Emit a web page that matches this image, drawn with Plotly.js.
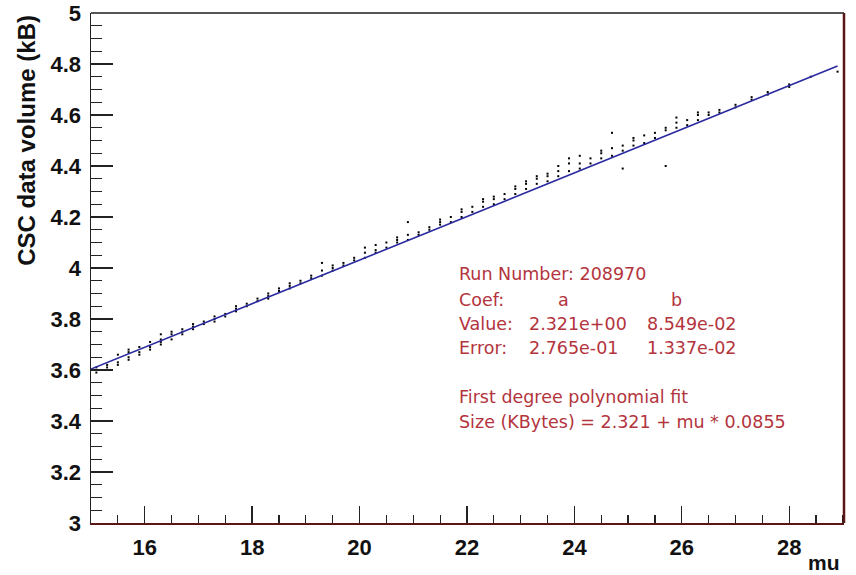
<!DOCTYPE html>
<html>
<head>
<meta charset="utf-8">
<script src="https://cdn.plot.ly/plotly-3.0.1.min.js"></script>
<style>html,body{margin:0;padding:0;background:#fff;}#chart{width:856px;height:575px;}</style>
</head>
<body>
<div id="chart"></div>
<script>
// scattered measurements (mu, size in kB)
const muVals = [
15.1,15.1,15.1, 15.3,15.3,15.3, 15.5,15.5,15.5, 15.7,15.7,15.7,15.7, 15.9,15.9,15.9,
16.1,16.1,16.1, 16.3,16.3,16.3,16.3, 16.5,16.5,16.5, 16.7,16.7,16.7, 16.9,16.9,16.9,
17.1,17.1, 17.3,17.3,17.3, 17.5,17.5, 17.7,17.7,17.7, 17.9,17.9,
18.1,18.1, 18.3,18.3,18.3, 18.5,18.5, 18.7,18.7,18.7, 18.9,18.9,
19.1,19.1, 19.3,19.3,19.3, 19.5,19.5,19.5, 19.7,19.7, 19.9,19.9,
20.1,20.1,20.1, 20.3,20.3,20.3, 20.5,20.5, 20.7,20.7,20.7, 20.9,20.9,20.9,
21.1,21.1, 21.3,21.3, 21.5,21.5,21.5, 21.7,21.7, 21.9,21.9,21.9,
22.1,22.1, 22.3,22.3,22.3, 22.5,22.5,22.5, 22.7,22.7, 22.9,22.9,22.9,
23.1,23.1,23.1, 23.3,23.3,23.3, 23.5,23.5,23.5, 23.7,23.7,23.7, 23.9,23.9,23.9,
24.1,24.1,24.1, 24.3,24.3, 24.5,24.5,24.5, 24.7,24.7,24.7, 24.9,24.9,24.9,
25.1,25.1,25.1, 25.3,25.3, 25.5,25.5, 25.7,25.7,25.7, 25.9,25.9,25.9,
26.1,26.1, 26.3,26.3,26.3, 26.5,26.5, 26.7,26.7, 27.0,27.0, 27.3,27.3,
27.6,27.6, 28.0,28.0, 28.4, 28.9
];
const sizeVals = [
3.60,3.59,3.61, 3.61,3.60,3.62, 3.63,3.62,3.66, 3.65,3.64,3.67,3.68, 3.66,3.67,3.69,
3.68,3.69,3.71, 3.70,3.71,3.72,3.74, 3.72,3.74,3.75, 3.74,3.75,3.76, 3.76,3.77,3.78,
3.78,3.79, 3.79,3.80,3.81, 3.81,3.82, 3.83,3.84,3.85, 3.85,3.86,
3.87,3.88, 3.88,3.89,3.90, 3.91,3.92, 3.92,3.93,3.94, 3.94,3.95,
3.96,3.97, 3.97,3.99,4.02, 3.99,4.00,4.01, 4.01,4.02, 4.03,4.04,
4.04,4.06,4.08, 4.06,4.07,4.09, 4.08,4.10, 4.10,4.11,4.12, 4.11,4.13,4.18,
4.13,4.14, 4.15,4.16, 4.17,4.18,4.19, 4.18,4.20, 4.20,4.22,4.23,
4.22,4.24, 4.24,4.26,4.27, 4.25,4.27,4.28, 4.27,4.29, 4.29,4.31,4.32,
4.31,4.33,4.34, 4.33,4.35,4.36, 4.34,4.36,4.37, 4.36,4.38,4.40, 4.38,4.41,4.43,
4.39,4.41,4.44, 4.41,4.43, 4.43,4.45,4.46, 4.44,4.47,4.53, 4.46,4.48,4.39,
4.48,4.50,4.51, 4.49,4.52, 4.51,4.53, 4.54,4.55,4.40, 4.55,4.57,4.59,
4.56,4.58, 4.58,4.60,4.61, 4.60,4.61, 4.61,4.62, 4.63,4.64, 4.66,4.67,
4.69,4.68, 4.72,4.71, 4.75, 4.77
];
// first degree polynomial fit endpoints
const fitX = [15.0, 28.9];
const fitY = [3.6035, 4.7919];
const infoLines = [
  {t:"Run Number: 208970", x:0.486, y:0.488, a:"left"},
  {t:"Coef:", x:0.486, y:0.437, a:"left"},
  {t:"a", x:0.627, y:0.437, a:"center"},
  {t:"b", x:0.778, y:0.437, a:"center"},
  {t:"Value:", x:0.486, y:0.390, a:"left"},
  {t:"2.321e+00", x:0.579, y:0.390, a:"left"},
  {t:"8.549e-02", x:0.736, y:0.390, a:"left"},
  {t:"Error:", x:0.486, y:0.343, a:"left"},
  {t:"2.765e-01", x:0.579, y:0.343, a:"left"},
  {t:"1.337e-02", x:0.736, y:0.343, a:"left"},
  {t:"First degree polynomial fit", x:0.486, y:0.247, a:"left"},
  {t:"Size (KBytes) = 2.321 + mu * 0.0855", x:0.486, y:0.198, a:"left"}
];

const red = '#b3343d';
const annots = infoLines.map(l => ({
  xref:'paper', yref:'paper', x:l.x, y:l.y, xanchor:l.a, yanchor:'middle',
  text:l.t, showarrow:false,
  font:{family:'DejaVu Sans', size:17.5, color:red}
}));
annots.push({xref:'paper', yref:'paper', x:-0.086, y:1.0, xanchor:'center', yanchor:'top',
  textangle:-90, text:'CSC data volume (kB)', showarrow:false,
  font:{family:'Liberation Sans', size:24, weight:'bold', color:'#111'}});
annots.push({xref:'paper', yref:'paper', x:0.997, y:-0.078, xanchor:'right', yanchor:'middle',
  text:'mu', showarrow:false,
  font:{family:'Liberation Sans', size:21, weight:'bold', color:'#111'}});

const traces = [
  {x:muVals, y:sizeVals, type:'scatter', mode:'markers',
   marker:{color:'#000', size:2, symbol:'square'}, hoverinfo:'skip'},
  {x:fitX, y:fitY, type:'scatter', mode:'lines',
   line:{color:'#2a2aa0', width:1.6}, hoverinfo:'skip'}
];

const tickFont = {family:'Liberation Sans', size:22, weight:'bold', color:'#111'};
const layout = {
  width:856, height:575,
  margin:{l:91, r:12, t:13, b:52},
  paper_bgcolor:'#fff', plot_bgcolor:'#fff',
  showlegend:false,
  xaxis:{range:[15, 29.02], tick0:16, dtick:2, ticks:'inside', ticklen:17, tickwidth:1.3,
    tickcolor:'#222', showgrid:false, zeroline:false, showline:true, linecolor:'#5a1515', linewidth:2,
    tickfont:tickFont, ticklabelstandoff:4,
    minor:{dtick:0.5, ticks:'inside', ticklen:8, tickcolor:'#222', tickwidth:1.2, showgrid:false}},
  yaxis:{range:[3, 5], tick0:3, dtick:0.2, ticks:'inside', ticklen:22, tickwidth:1.3,
    tickcolor:'#222', showgrid:false, zeroline:false, showline:true, linecolor:'#222', linewidth:1.5,
    tickfont:tickFont, ticklabelstandoff:4,
    minor:{dtick:0.05, ticks:'inside', ticklen:11, tickcolor:'#222', tickwidth:1.2, showgrid:false}},
  shapes:[
    {type:'line', xref:'paper', yref:'paper', x0:0, x1:1, y0:1, y1:1, line:{color:'#555', width:2}},
    {type:'line', xref:'paper', yref:'paper', x0:1, x1:1, y0:0, y1:1, line:{color:'#5a1515', width:2.5}}
  ],
  annotations:annots
};
Plotly.newPlot('chart', traces, layout, {staticPlot:true, displayModeBar:false});
</script>
</body>
</html>
